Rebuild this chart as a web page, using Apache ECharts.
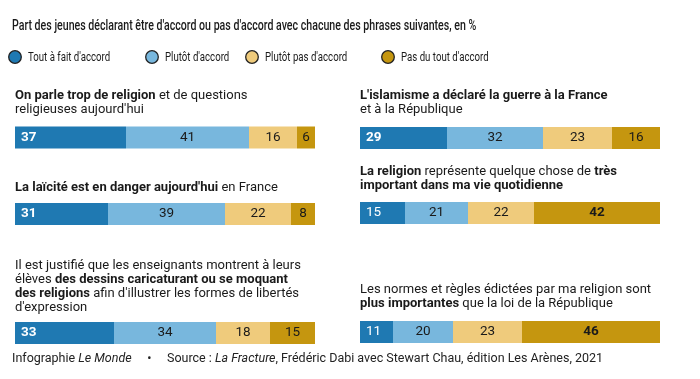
<!DOCTYPE html>
<html>
<head>
<meta charset="utf-8">
<script src="https://cdn.jsdelivr.net/npm/echarts@6/dist/echarts.min.js"></script>
<style>html,body{margin:0;padding:0;background:#fff;}#c{width:700px;height:379px;}</style>
</head>
<body>
<div id="c"></div>
<script>
// ---- data ----
const categories = ["Tout à fait d'accord", "Plutôt d'accord", "Plutôt pas d'accord", "Pas du tout d'accord"];
const toutAFait = [37, 31, 33, 29, 15, 11];
const plutot    = [41, 39, 34, 32, 21, 20];
const plutotPas = [16, 22, 18, 23, 22, 23];
const pasDuTout = [6, 8, 15, 16, 42, 46];
const questions = [
  "{b|On parle trop de religion} et de questions\nreligieuses aujourd'hui",
  "{b|La laïcité est en danger aujourd'hui} en France",
  "Il est justifié que les enseignants montrent à leurs\nélèves {b|des dessins caricaturant ou se moquant}\n{b|des religions} afin d'illustrer les formes de libertés\nd'expression",
  "{b|L'islamisme a déclaré la guerre à la France}\net à la République",
  "{b|La religion} représente quelque chose de {b|très}\n{b|important dans ma vie quotidienne}",
  "Les normes et règles édictées par ma religion sont\n{b|plus importantes} que la loi de la République"
];
const titleText = "Part des jeunes déclarant être d'accord ou pas d'accord avec chacune des phrases suivantes, en %";
const footerText = "Infographie {i|Le Monde}     •     Source : {i|La Fracture}, Frédéric Dabi avec Stewart Chau, édition Les Arènes, 2021";

// ---- style / layout ----
const values = [toutAFait, plutot, plutotPas, pasDuTout];
const colors = ['#1f79b2', '#78b7dd', '#efcb7c', '#c5960f'];
const panels = [
  {left: 15, top: 126.5, textY: 89},
  {left: 15, top: 203, textY: 180.5},
  {left: 15, top: 322, textY: 258.5},
  {left: 360, top: 127, textY: 89},
  {left: 360, top: 202, textY: 164.5},
  {left: 360, top: 321, textY: 282.5}
];
const boldCat = [[0], [0], [0], [0], [3], [3]];
const legendX = [15, 152, 252, 388];
const FONT = 'Roboto, "Liberation Sans", sans-serif';
const TXT = '#1a1a1a';

const grid = [], xAxis = [], yAxis = [], series = [], graphic = [];
panels.forEach((p, i) => {
  grid.push({left: p.left, top: p.top, width: 300, height: 22});
  xAxis.push({gridIndex: i, type: 'value', min: 0, max: 100, show: false});
  yAxis.push({gridIndex: i, type: 'category', data: [''], show: false});
  categories.forEach((cat, c) => {
    const bold = boldCat[i].indexOf(c) >= 0;
    series.push({
      name: cat, type: 'bar', stack: 's' + i, xAxisIndex: i, yAxisIndex: i,
      barWidth: 22, itemStyle: {color: colors[c]},
      silent: true,
      label: {
        show: true,
        position: c === 0 ? 'insideLeft' : 'inside',
        distance: 6,
        color: c === 0 ? '#fff' : TXT,
        fontFamily: FONT, fontSize: 13.5,
        fontWeight: bold ? 'bold' : 'normal'
      },
      data: [values[c][i]]
    });
  });
  graphic.push({
    type: 'text', left: p.left, top: p.textY,
    style: {
      text: questions[i], fontFamily: FONT, fontSize: 13, lineHeight: 14, fill: TXT,
      rich: {b: {fontFamily: FONT, fontSize: 13, lineHeight: 14, fontWeight: 'bold', fill: TXT}}
    }
  });
});
// title (condensed look via horizontal scale)
graphic.push({type: 'text', x: 12, y: 26.5, scaleX: 0.758,
  style: {text: titleText, fontFamily: FONT, fontSize: 14, fontWeight: 500, fill: TXT, verticalAlign: 'middle'}});
// legend
categories.forEach((cat, c) => {
  graphic.push({type: 'circle', shape: {cx: legendX[c], cy: 57, r: 6.3},
    style: {fill: colors[c], stroke: '#222', lineWidth: 1.3}});
  graphic.push({type: 'text', x: legendX[c] + 13, y: 57.5, scaleX: 0.715,
    style: {text: cat, fontFamily: FONT, fontSize: 13.5, fill: TXT, verticalAlign: 'middle'}});
});
// footer
graphic.push({type: 'text', left: 12, top: 351.5, style: {
  text: footerText, fontFamily: FONT, fontSize: 12.5, lineHeight: 14, fill: '#222',
  rich: {i: {fontFamily: FONT, fontSize: 12.5, lineHeight: 14, fontStyle: 'italic', fill: '#222'}}
}});

const chart = echarts.init(document.getElementById('c'), null, {renderer: 'canvas'});
chart.setOption({animation: false, grid, xAxis, yAxis, series, graphic});
</script>
</body>
</html>
